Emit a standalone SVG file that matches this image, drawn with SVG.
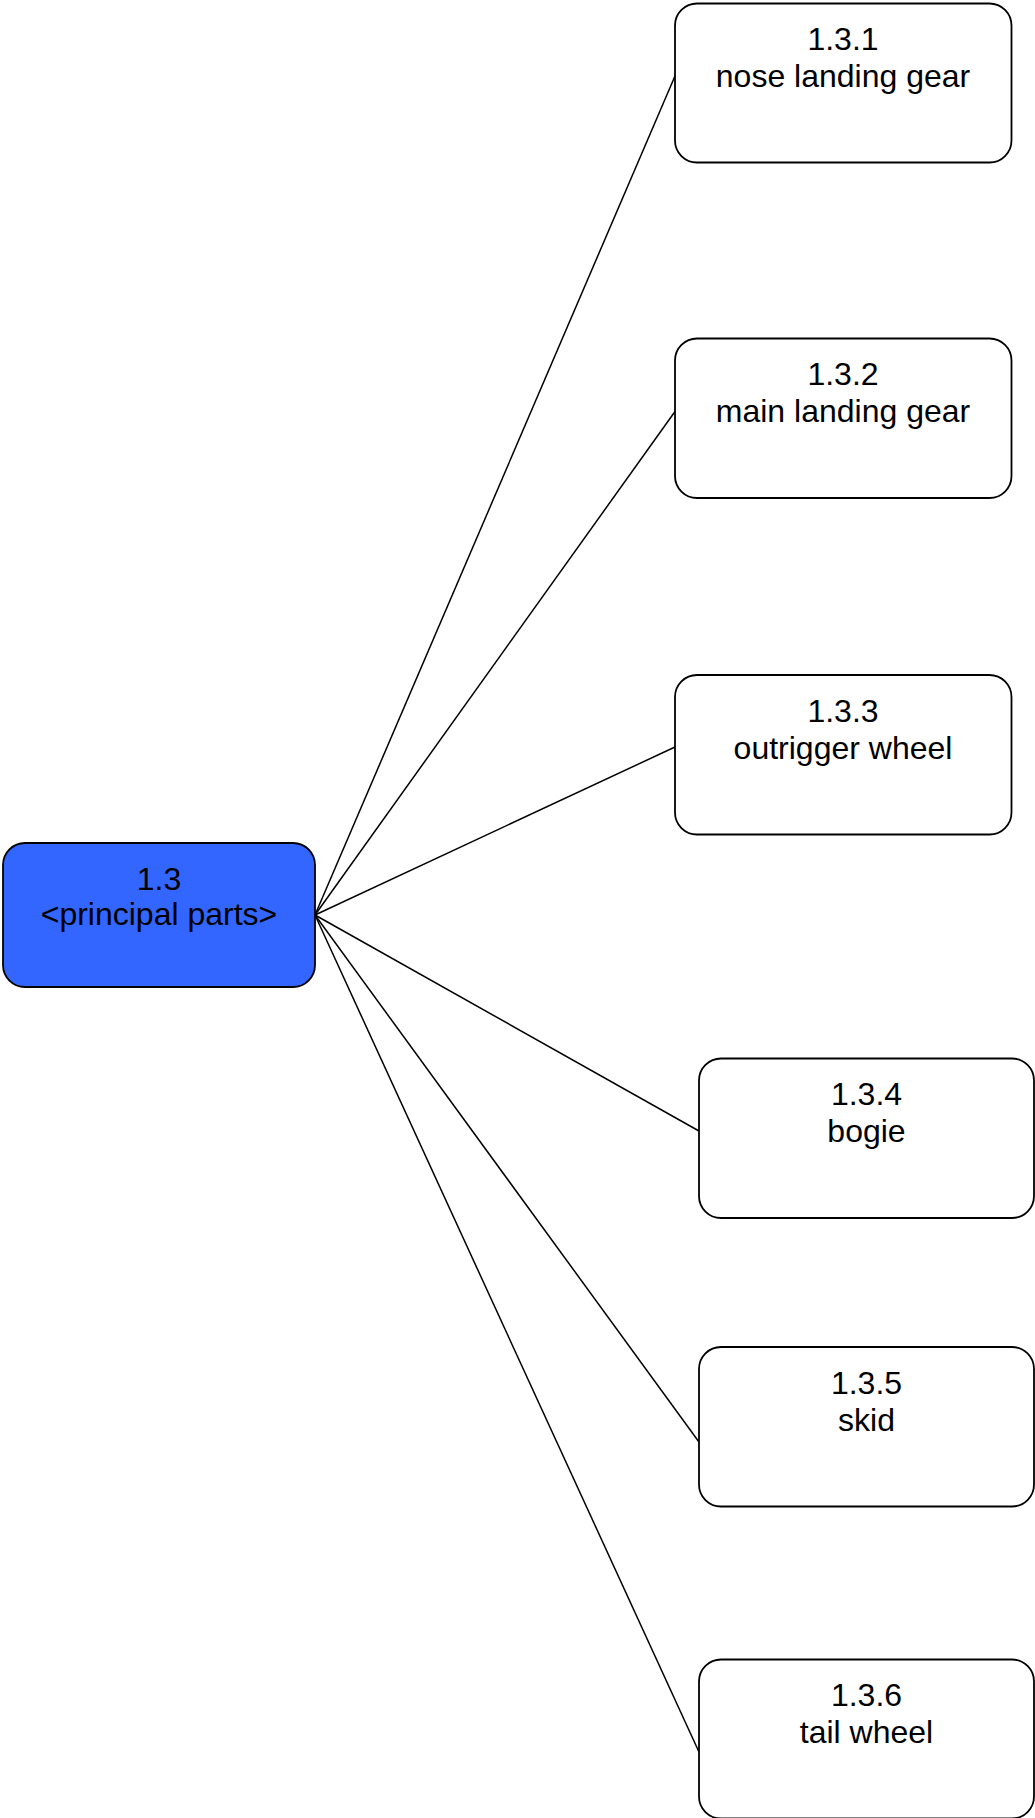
<svg xmlns="http://www.w3.org/2000/svg" width="1035" height="1818" viewBox="0 0 1035 1818">
  <style>
    .box { fill: #ffffff; stroke: #000000; stroke-width: 1.8; }
    .root { fill: #3366ff; }
    .edge { stroke: #000000; stroke-width: 1.5; fill: none; }
    text { font-family: "Liberation Sans", Arial, sans-serif; font-size: 32px; fill: #000000; text-anchor: middle; }
  </style>
  <rect x="0" y="0" width="1035" height="1818" fill="#ffffff"/>

  <!-- connectors from the parent node to each child -->
  <g id="connectors">
    <line class="edge" x1="315" y1="915" x2="675" y2="76"/>
    <line class="edge" x1="315" y1="915" x2="675" y2="411.5"/>
    <line class="edge" x1="315" y1="915" x2="675" y2="747"/>
    <line class="edge" x1="315" y1="915" x2="699" y2="1131"/>
    <line class="edge" x1="315" y1="915" x2="699" y2="1442"/>
    <line class="edge" x1="315" y1="915" x2="699" y2="1752"/>
  </g>

  <g id="node-1.3">
    <rect class="box root" x="3" y="843" width="312" height="144" rx="22" ry="22"/>
    <text x="159" y="889.5">1.3</text>
    <text x="159" y="925">&lt;principal parts&gt;</text>
  </g>

  <g id="node-1.3.1">
    <rect class="box" x="675" y="3.5" width="336.5" height="159" rx="22" ry="22"/>
    <text x="843" y="50">1.3.1</text>
    <text x="843" y="87">nose landing gear</text>
  </g>

  <g id="node-1.3.2">
    <rect class="box" x="675" y="338.5" width="336.5" height="159.5" rx="22" ry="22"/>
    <text x="843" y="385">1.3.2</text>
    <text x="843" y="422">main landing gear</text>
  </g>

  <g id="node-1.3.3">
    <rect class="box" x="675" y="675" width="336.5" height="159.5" rx="22" ry="22"/>
    <text x="843" y="721.5">1.3.3</text>
    <text x="843" y="758.5">outrigger wheel</text>
  </g>

  <g id="node-1.3.4">
    <rect class="box" x="699" y="1058.5" width="335" height="159.5" rx="22" ry="22"/>
    <text x="866.5" y="1105">1.3.4</text>
    <text x="866.5" y="1142">bogie</text>
  </g>

  <g id="node-1.3.5">
    <rect class="box" x="699" y="1347" width="335" height="159.5" rx="22" ry="22"/>
    <text x="866.5" y="1393.5">1.3.5</text>
    <text x="866.5" y="1430.5">skid</text>
  </g>

  <g id="node-1.3.6">
    <rect class="box" x="699" y="1659.5" width="335" height="159" rx="22" ry="22"/>
    <text x="866.5" y="1706">1.3.6</text>
    <text x="866.5" y="1743">tail wheel</text>
  </g>
</svg>
